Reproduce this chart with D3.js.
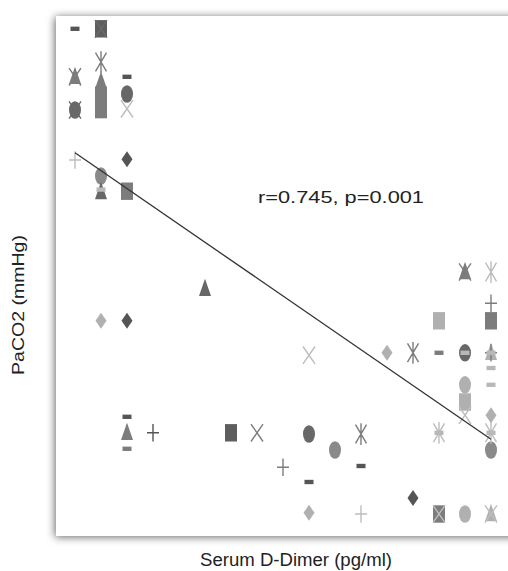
<!DOCTYPE html>
<html>
<head>
<meta charset="utf-8">
<script src="https://cdn.jsdelivr.net/npm/d3@7"></script>
<style>
  html, body { margin: 0; padding: 0; background: #fff; }
  svg { display: block; }
  text { font-family: "Liberation Sans", Arial, sans-serif; fill: #222; }
</style>
</head>
<body>
<div id="chart"></div>
<script>
// Patient index along the D-Dimer axis (ordered groups) and PaCO2 readings (mmHg)
// Each series: x positions and matching PaCO2 values
const diamondDarkX = [3, 3, 14];
const diamondDarkY = [72.1, 51.9, 29.75];
const diamondLightX = [2, 10, 13, 17];
const diamondLightY = [51.9, 27.9, 47.9, 40.1];

const squareDarkX = [2, 7];
const squareDarkY = [88.4, 37.9];
const squareMidX = [2, 2, 3, 17, 15];
const squareMidY = [80.1, 78.3, 68.1, 51.9, 27.75];
const squareLightX = [15, 16];
const squareLightY = [51.9, 41.75];

const triangleDarkX = [2, 6];
const triangleDarkY = [68.0, 55.9];
const triangleMidX = [1, 2, 3, 16];
const triangleMidY = [82.4, 81.8, 37.9, 58.0];
const triangleLightX = [17, 17];
const triangleLightY = [47.9, 27.75];

const crossDarkX = [1, 2];
const crossDarkY = [78.25, 88.4];
const crossMidX = [1, 8, 16];
const crossMidY = [82.4, 37.9, 58.0];
const crossLightX = [3, 10, 16, 15, 17];
const crossLightY = [78.4, 47.6, 40.1, 27.75, 27.75];

const starMidX = [2, 12, 14];
const starMidY = [84.25, 37.75, 47.9];
const starLightX = [17, 15, 17];
const starLightY = [58.0, 37.9, 37.9];

const circleDarkX = [1, 3, 10, 16];
const circleDarkY = [78.25, 80.25, 37.75, 47.9];
const circleMidX = [2, 11, 17];
const circleMidY = [70.0, 35.75, 35.75];
const circleLightX = [16, 16];
const circleLightY = [43.9, 27.75];

const plusDarkX = [4];
const plusDarkY = [37.9];
const plusMidX = [9, 17, 17];
const plusMidY = [33.6, 54.1, 47.9];
const plusLightX = [1, 12];
const plusLightY = [72.0, 27.75];

const dashDarkX = [1, 3, 3, 12, 10];
const dashDarkY = [88.4, 82.4, 39.9, 33.75, 31.75];
const dashMidX = [3, 15];
const dashMidY = [35.9, 47.9];
const dashLightX = [17, 17, 16, 17, 15, 17, 2];
const dashLightY = [46.0, 43.9, 47.9, 47.9, 37.9, 37.9, 68.3];

// Fitted trend line end points
const fitX = [1, 17];
const fitY = [72.9, 37.1];

const statText = "r=0.745, p=0.001";
const xTitle = "Serum D-Dimer (pg/ml)";
const yTitle = "PaCO2 (mmHg)";

const W = 508, H = 571;
const box = { left: 56, top: 16, right: 530, bottom: 536 };

const svg = d3.select("#chart").append("svg")
  .attr("width", W).attr("height", H);

const defs = svg.append("defs");
const f = defs.append("filter").attr("id", "shadow")
  .attr("x", "-10%").attr("y", "-10%").attr("width", "120%").attr("height", "120%");
f.append("feDropShadow")
  .attr("dx", -1).attr("dy", 1).attr("stdDeviation", 4)
  .attr("flood-color", "#000").attr("flood-opacity", 0.6);

svg.append("rect")
  .attr("x", box.left).attr("y", box.top)
  .attr("width", box.right - box.left).attr("height", box.bottom - box.top)
  .attr("fill", "#fff")
  .attr("filter", "url(#shadow)");

const x = d3.scaleLinear().domain([1, 17]).range([75, 491]);
const y = d3.scaleLinear().domain([25, 90]).range([536, 16]);

const g = svg.append("g");

const shade = { dark: "#555", mid: "#7c7c7c", light: "#b0b0b0" };

// marker painters, drawn in a local frame stretched vertically
const SY = 1.45;
function place(sel, xs, ys) {
  return sel.attr("transform", (d, i) => `translate(${x(xs[i])},${y(ys[i])}) scale(1,${SY})`);
}
function series(xs, ys, draw, color) {
  const s = g.append("g").selectAll("g").data(xs).join("g");
  place(s, xs, ys);
  draw(s, color);
}
const drawDiamond = (s, c) => s.append("path").attr("d", "M0,-5.5L5.5,0L0,5.5L-5.5,0Z").attr("fill", c);
const drawSquare = (s, c) => s.append("rect").attr("x", -6).attr("y", -6).attr("width", 12).attr("height", 12).attr("fill", c);
const drawTriangle = (s, c) => s.append("path").attr("d", "M0,-7L6,5L-6,5Z").attr("fill", c);
const drawCircle = (s, c) => s.append("ellipse").attr("rx", 6).attr("ry", 6).attr("fill", c);
const drawCross = (s, c) => s.append("path").attr("d", "M-6,-6L6,6M6,-6L-6,6")
  .attr("stroke", c).attr("stroke-width", 1.4).attr("fill", "none").attr("vector-effect", "non-scaling-stroke");
const drawStar = (s, c) => s.append("path").attr("d", "M-5.5,-6.5L5.5,6.5M5.5,-6.5L-5.5,6.5M0,-7.5L0,7.5")
  .attr("stroke", c).attr("stroke-width", 1.4).attr("fill", "none").attr("vector-effect", "non-scaling-stroke");
const drawPlus = (s, c) => s.append("path").attr("d", "M-6,0L6,0M0,-6L0,6")
  .attr("stroke", c).attr("stroke-width", 1.4).attr("fill", "none").attr("vector-effect", "non-scaling-stroke");
const drawDash = (s, c) => s.append("rect").attr("x", -4.5).attr("y", -1.5).attr("width", 9).attr("height", 3).attr("fill", c);

series(squareDarkX, squareDarkY, drawSquare, "#5e5e5e");
series(squareMidX, squareMidY, drawSquare, shade.mid);
series(squareLightX, squareLightY, drawSquare, shade.light);
series(circleDarkX, circleDarkY, drawCircle, "#686868");
series(circleMidX, circleMidY, drawCircle, "#8a8a8a");
series(circleLightX, circleLightY, drawCircle, shade.light);
series(triangleDarkX, triangleDarkY, drawTriangle, "#676767");
series(triangleMidX, triangleMidY, drawTriangle, shade.mid);
series(triangleLightX, triangleLightY, drawTriangle, shade.light);
series(diamondDarkX, diamondDarkY, drawDiamond, shade.dark);
series(diamondLightX, diamondLightY, drawDiamond, shade.light);
series(crossDarkX, crossDarkY, drawCross, "#6a6a6a");
series(crossMidX, crossMidY, drawCross, shade.mid);
series(crossLightX, crossLightY, drawCross, "#bdbdbd");
series(starMidX, starMidY, drawStar, shade.mid);
series(starLightX, starLightY, drawStar, "#bdbdbd");
series(plusDarkX, plusDarkY, drawPlus, shade.dark);
series(plusMidX, plusMidY, drawPlus, shade.mid);
series(plusLightX, plusLightY, drawPlus, "#bdbdbd");
series(dashDarkX, dashDarkY, drawDash, shade.dark);
series(dashMidX, dashMidY, drawDash, shade.mid);
series(dashLightX, dashLightY, drawDash, "#b8b8b8");

// trend line
g.append("path")
  .datum(fitX.map((v, i) => [v, fitY[i]]))
  .attr("d", d3.line().x(d => x(d[0])).y(d => y(d[1])))
  .attr("stroke", "#333").attr("stroke-width", 1.3).attr("fill", "none");

svg.append("text")
  .attr("x", 258).attr("y", 203)
  .attr("font-size", 17)
  .attr("textLength", 166).attr("lengthAdjust", "spacingAndGlyphs")
  .text(statText);

svg.append("text")
  .attr("x", 200).attr("y", 566)
  .attr("font-size", 17.5)
  .attr("textLength", 192).attr("lengthAdjust", "spacingAndGlyphs")
  .text(xTitle);

svg.append("text")
  .attr("transform", "translate(24,305) rotate(-90)")
  .attr("text-anchor", "middle")
  .attr("font-size", 17)
  .attr("textLength", 140).attr("lengthAdjust", "spacingAndGlyphs")
  .text(yTitle);
</script>
</body>
</html>
